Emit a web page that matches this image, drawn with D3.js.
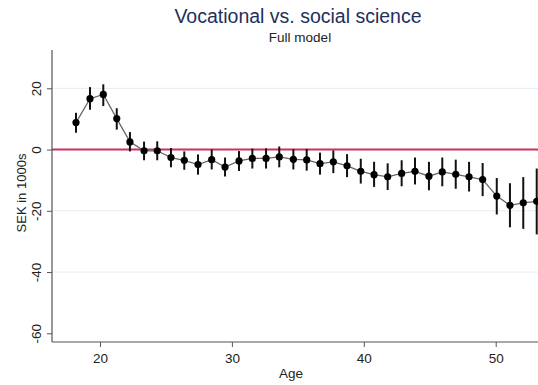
<!DOCTYPE html>
<html>
<head>
<meta charset="utf-8">
<script src="https://cdn.jsdelivr.net/npm/d3@7"></script>
<style>
  html, body { margin: 0; padding: 0; background: #fff; }
  svg { display: block; font-family: "Liberation Sans", Arial, sans-serif; }
</style>
</head>
<body>
<svg id="chart" width="538" height="385"></svg>
<script>
// Estimated earnings gap (SEK, thousands) by age, with 95% confidence bounds
const age = [18.18, 19.24, 20.25, 21.27, 22.27, 23.34, 24.34, 25.38, 26.39, 27.43,
             28.47, 29.48, 30.54, 31.55, 32.59, 33.59, 34.66, 35.67, 36.68, 37.69,
             38.73, 39.77, 40.78, 41.81, 42.87, 43.88, 44.94, 45.95, 46.97, 47.98,
             49.01, 50.08, 51.08, 52.09, 53.11];
const estimate = [8.8, 16.6, 18.0, 10.1, 2.5, -0.4, -0.4, -2.6, -3.5, -4.9,
                  -3.3, -5.7, -3.7, -2.9, -2.9, -2.4, -3.2, -3.4, -4.6, -4.0,
                  -5.3, -7.1, -8.2, -8.9, -7.8, -7.1, -8.7, -7.3, -8.1, -8.9,
                  -9.8, -15.2, -18.2, -17.4, -16.9];
const lower = [5.5, 13.0, 14.2, 6.5, -0.6, -3.5, -3.5, -5.8, -6.6, -8.2,
               -6.5, -8.8, -7.0, -6.2, -6.2, -5.8, -6.5, -6.9, -8.2, -7.7,
               -9.0, -11.1, -12.2, -13.2, -12.0, -11.4, -13.3, -12.0, -12.8, -13.7,
               -15.2, -21.2, -25.4, -25.9, -27.7];
const upper = [12.0, 20.4, 21.3, 13.5, 5.7, 2.6, 2.7, 0.5, -0.6, -1.6,
               0.0, -2.6, -0.5, 0.3, 0.4, 1.0, 0.1, 0.2, -1.0, -0.3,
               -1.5, -3.0, -4.0, -4.5, -3.5, -2.6, -4.0, -2.6, -3.3, -4.0,
               -4.4, -9.3, -11.0, -9.0, -6.2];
const xTicks = [20, 30, 40, 50];
const yTicks = [20, 0, -20, -40, -60];
const gridTicks = [20, -20, -40];

const points = age.map((a, i) => ({ age: a, est: estimate[i], lo: lower[i], hi: upper[i] }));

const svg = d3.select("#chart");
const plot = { left: 52, right: 538, top: 50, bottom: 342 };

const x = d3.scaleLinear().domain([20, 50]).range([100, 495.7]);
const y = d3.scaleLinear().domain([20, -60]).range([88.3, 333.3]);
const plain = d => String(d);

// light horizontal grid
svg.append("g").selectAll("line").data(gridTicks).join("line")
  .attr("x1", plot.left).attr("x2", plot.right)
  .attr("y1", d => y(d)).attr("y2", d => y(d))
  .attr("stroke", "#e4edf2").attr("stroke-width", 1);

// reference line at zero
svg.append("line")
  .attr("x1", plot.left).attr("x2", plot.right)
  .attr("y1", y(0)).attr("y2", y(0))
  .attr("stroke", "#cc3158").attr("stroke-width", 2);

// y axis
const yAxis = svg.append("g")
  .attr("transform", `translate(${plot.left},0)`)
  .call(d3.axisLeft(y).tickValues(yTicks).tickSize(5).tickFormat(plain));
yAxis.select(".domain").attr("d", `M0,${plot.top}V${plot.bottom}`).attr("stroke", "#555").attr("stroke-width", 1.2);
yAxis.selectAll(".tick line").attr("stroke", "#555");
yAxis.selectAll(".tick text")
  .attr("font-size", 13.5).attr("fill", "#222")
  .attr("text-anchor", "middle")
  .attr("dy", null)
  .attr("x", null)
  .attr("transform", "translate(-16,0) rotate(-90)")
  .attr("dominant-baseline", "central");

// x axis
const xAxis = svg.append("g")
  .attr("transform", `translate(0,${plot.bottom})`)
  .call(d3.axisBottom(x).tickValues(xTicks).tickSize(5).tickPadding(6).tickFormat(plain));
xAxis.select(".domain").attr("d", `M${plot.left},0H${plot.right}`).attr("stroke", "#555").attr("stroke-width", 1.2);
xAxis.selectAll(".tick line").attr("stroke", "#555");
xAxis.selectAll(".tick text").attr("font-size", 13.5).attr("fill", "#222");

// connecting line
svg.append("path")
  .datum(points)
  .attr("fill", "none")
  .attr("stroke", "#666")
  .attr("stroke-width", 1.3)
  .attr("d", d3.line().x(d => x(d.age)).y(d => y(d.est)));

// confidence intervals
svg.append("g").selectAll("line").data(points).join("line")
  .attr("x1", d => x(d.age)).attr("x2", d => x(d.age))
  .attr("y1", d => y(d.hi)).attr("y2", d => y(d.lo))
  .attr("stroke", "#111").attr("stroke-width", 2);

// point estimates
svg.append("g").selectAll("circle").data(points).join("circle")
  .attr("cx", d => x(d.age)).attr("cy", d => y(d.est))
  .attr("r", 3.6).attr("fill", "#000");

// titles
svg.append("text")
  .attr("x", 298).attr("y", 23)
  .attr("text-anchor", "middle")
  .attr("font-size", 19.5).attr("fill", "#1e2f5c")
  .text("Vocational vs. social science");
svg.append("text")
  .attr("x", 300).attr("y", 42)
  .attr("text-anchor", "middle")
  .attr("font-size", 13.5).attr("fill", "#222")
  .text("Full model");

// axis titles
svg.append("text")
  .attr("x", 291).attr("y", 378)
  .attr("text-anchor", "middle")
  .attr("font-size", 13.5).attr("fill", "#222")
  .text("Age");
svg.append("text")
  .attr("transform", "translate(21,193) rotate(-90)")
  .attr("text-anchor", "middle")
  .attr("dominant-baseline", "central")
  .attr("font-size", 13).attr("fill", "#222")
  .text("SEK in 1000s");
</script>
</body>
</html>
